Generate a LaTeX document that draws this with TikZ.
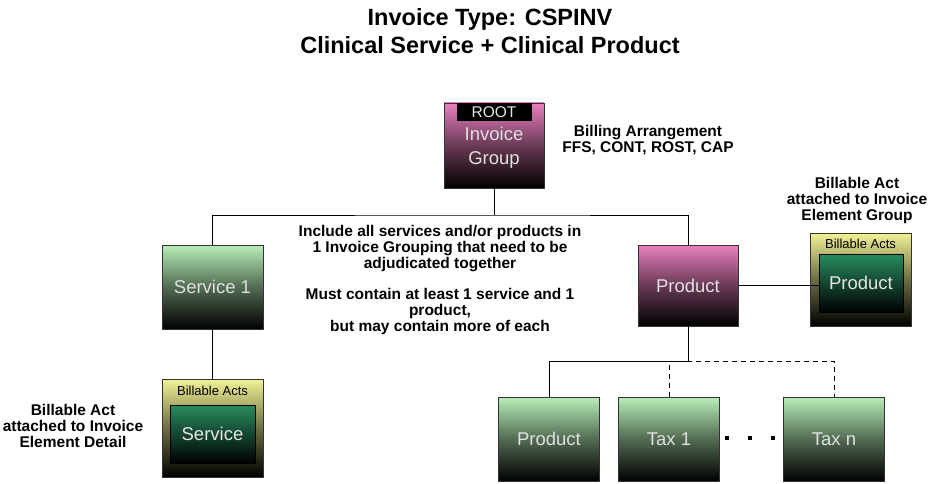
\documentclass[tikz,border=0pt]{standalone}
\usepackage{fontspec}
\setmainfont{Liberation Sans}
\usetikzlibrary{positioning}

\definecolor{pinktop}{RGB}{232,128,190}
\definecolor{greentop}{RGB}{184,238,184}
\definecolor{yellowtop}{RGB}{242,242,150}
\definecolor{deepgreen}{RGB}{40,140,95}

\begin{document}
\begin{tikzpicture}[
    x=1pt, y=-1pt,
    group/.style={rectangle, draw=black!80, top color=pinktop, bottom color=black, middle color=pinktop!45!black, minimum width=100pt, minimum height=84pt, inner sep=0pt, align=center, text=white!88!black, font=\fontsize{18.5}{24}\selectfont},
    element/.style={rectangle, draw=black!80, top color=greentop, bottom color=black, middle color=greentop!45!black, minimum width=101pt, minimum height=84pt, inner sep=0pt, align=center, text=white!88!black, font=\fontsize{18.5}{24}\selectfont},
    acts/.style={rectangle, draw=black!80, top color=yellowtop, bottom color=black, middle color=yellowtop!45!black, minimum width=101pt, inner sep=0pt},
    act/.style={rectangle, draw=black, top color=deepgreen, bottom color=black, minimum width=85pt, minimum height=58pt, inner sep=0pt, align=center, text=white!90!black, font=\fontsize{18.5}{24}\selectfont},
    actslabel/.style={font=\fontsize{13}{15}\selectfont, text=black},
    note/.style={align=center, font=\fontsize{15.5}{16}\selectfont\bfseries},
    link/.style={draw=black, line width=0.9pt},
    dot/.style={fill=black, minimum size=4pt, inner sep=0pt},
]
\useasboundingbox (0,0) rectangle (929,484);

% --- Title ---
\node[font=\fontsize{23.5}{28}\selectfont\bfseries, align=center] (title) at (490,31) {Invoice Type: CSPINV\\Clinical Service + Clinical Product};

% --- Root group ---
\node[group, minimum width=100pt, minimum height=85pt] (root) at (494,145.5) {\\[-6pt]Invoice\\Group};
\node[fill=black, text=white!90!black, minimum width=75pt, minimum height=18pt, inner sep=0pt, font=\fontsize{15.5}{16}\selectfont, anchor=north] (rootlabel) at (root.north) {ROOT};
\node[note] (billing) at (648,140) {Billing Arrangement\\FFS, CONT, ROST, CAP};

% --- Elements ---
\node[element] (service) at (212.5,287) {Service 1};
\node[group, minimum width=100pt, minimum height=81pt] (product) at (688,285.5) {Product};
\coordinate (split) at (494,215);

\draw[link] (root.south) -- (split);
\draw[link] (service.north) |- (split) -| (product.north);

\node[note] (grouping) at (440,280) {Include all services and/or products in\\1 Invoice Grouping that need to be\\adjudicated together\\[15pt]Must contain at least 1 service and 1\\product,\\but may contain more of each};

% --- Billable acts, left ---
\node[acts, minimum height=98pt] (leftacts) at (212.5,428) {};
\node[actslabel, below=4pt of leftacts.north] (leftactslabel) {Billable Acts};
\node[act] (serviceact) at (212.5,434) {Service};
\node[note] (detailnote) at (73,426) {Billable Act\\attached to Invoice\\Element Detail};
\draw[link] (service.south) -- (leftacts.north);

% --- Billable acts, right ---
\node[acts, minimum height=93pt] (rightacts) at (860.5,279.5) {};
\node[actslabel, below=3pt of rightacts.north] (rightactslabel) {Billable Acts};
\node[act, minimum width=84pt] (productact) at (861,283) {Product};
\node[note] (groupnote) at (857,200) {Billable Act\\attached to Invoice\\Element Group};
\draw[link] (product.east) -- (productact.west |- product.east);

% --- Product details ---
\node[element] (detailproduct) at (549,439) {Product};
\node[element] (tax1) at (669,439) {Tax 1};
\node[element] (taxn) at (834,439) {Tax n};
\coordinate (fork) at (688,361);

\draw[link] (product.south) -- (fork) -| (detailproduct.north);
\draw[link, dashed, dash pattern=on 5pt off 4pt] (tax1.north) |- (taxn.north |- fork) -- (taxn.north);

\node[dot] (dota) at (727,438) {};
\node[dot] (dotb) at (750,438) {};
\node[dot] (dotc) at (773,438) {};

\end{tikzpicture}
\end{document}
